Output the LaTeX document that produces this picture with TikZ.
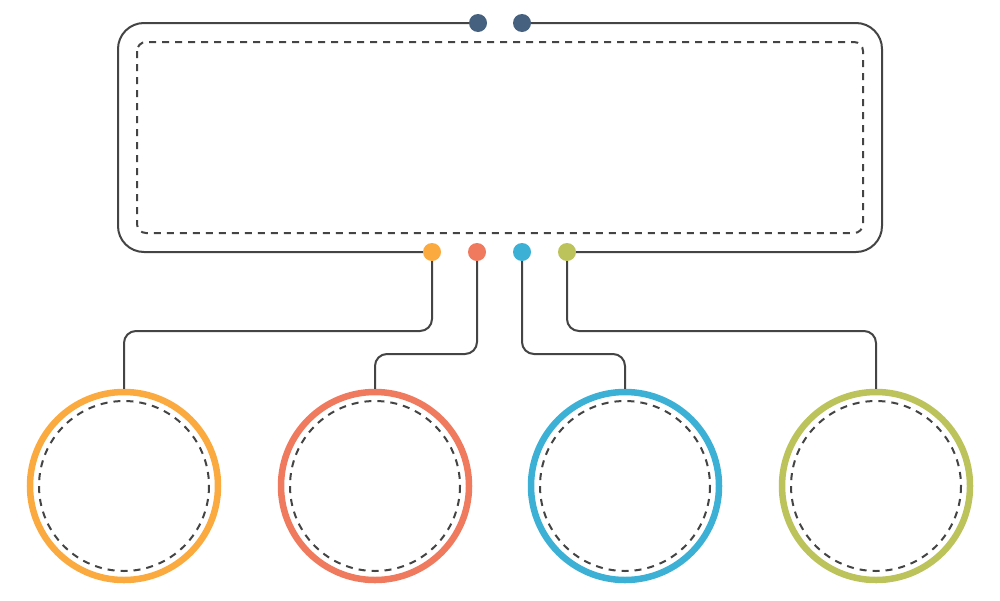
\documentclass[tikz,border=0pt]{standalone}
\begin{document}
\begin{tikzpicture}[x=1pt,y=-1pt,
  wire/.style={draw=lineGray,line width=2pt},
  dashline/.style={draw=lineGray,line width=2pt,dash pattern=on 7pt off 6pt},
  dot/.style={circle,fill=#1,inner sep=0pt,minimum size=18pt},
  ring/.style={circle,draw=#1,line width=6.5pt,inner sep=0pt,minimum size=188pt},
  ]
\definecolor{lineGray}{HTML}{444444}
\definecolor{cNavy}{HTML}{46617F}
\definecolor{cOrange}{HTML}{FBAA40}
\definecolor{cRed}{HTML}{EF7A5E}
\definecolor{cBlue}{HTML}{3DB0D6}
\definecolor{cGreen}{HTML}{BDC35B}
\useasboundingbox[fill=white] (0,0) rectangle (1000,600);

% dots
\node[dot=cNavy] (t1) at (478,23) {};
\node[dot=cNavy] (t2) at (522,23) {};
\node[dot=cOrange] (b1) at (432,252) {};
\node[dot=cRed] (b2) at (477,252) {};
\node[dot=cBlue] (b3) at (522,252) {};
\node[dot=cGreen] (b4) at (567,252) {};

% outer frame
\draw[wire,rounded corners=26pt] (t1.west) -- (118,23) -- (118,252) -- (b1.west);
\draw[wire,rounded corners=26pt] (t2.east) -- (882,23) -- (882,252) -- (b4.east);
% inner dashed frame
\draw[dashline,rounded corners=9pt] (137,42) rectangle (863,233);

% circles
\node[ring=cOrange] (c1) at (124,486) {};
\node[ring=cRed] (c2) at (375,486) {};
\node[ring=cBlue] (c3) at (625,486) {};
\node[ring=cGreen] (c4) at (876,486) {};
\foreach \c in {c1,c2,c3,c4}{
  \draw[dashline] (\c.center) circle[radius=85];
}

% connectors
\draw[wire,rounded corners=12pt] (b1.south) -- (432,331) -- (124,331) -- (c1.north);
\draw[wire,rounded corners=12pt] (b2.south) -- (477,354) -- (375,354) -- (c2.north);
\draw[wire,rounded corners=12pt] (b3.south) -- (522,354) -- (625,354) -- (c3.north);
\draw[wire,rounded corners=12pt] (b4.south) -- (567,331) -- (876,331) -- (c4.north);
\end{tikzpicture}
\end{document}
